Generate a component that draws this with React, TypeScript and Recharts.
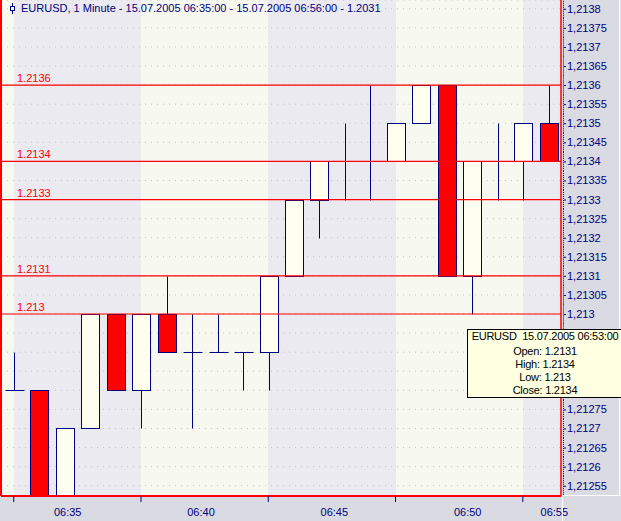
import React from "react";
import {
  ComposedChart,
  Bar,
  XAxis,
  YAxis,
  CartesianGrid,
  ReferenceLine,
} from "recharts";

// EURUSD 1 minute, 15.07.2005 06:35 - 06:56
const times = [
  "06:35", "06:36", "06:37", "06:38", "06:39", "06:40", "06:41", "06:42",
  "06:43", "06:44", "06:45", "06:46", "06:47", "06:48", "06:49", "06:50",
  "06:51", "06:52", "06:53", "06:54", "06:55", "06:56",
];
const opens = [
  1.2128, 1.2128, 1.2125, 1.2127, 1.213, 1.2128, 1.213, 1.2129, 1.2129, 1.2129, 1.2129,
  1.2131, 1.2133, 1.2134, 1.2134, 1.2134, 1.2135, 1.2136, 1.2131, 1.2134, 1.2134, 1.2135,
];
const highs = [
  1.2129, 1.2128, 1.2127, 1.213, 1.213, 1.213, 1.2131, 1.213, 1.213, 1.2129, 1.2131,
  1.2133, 1.2134, 1.2135, 1.2136, 1.2135, 1.2136, 1.2136, 1.2134, 1.2135, 1.2135, 1.2136,
];
const lows = [
  1.2128, 1.2125, 1.2125, 1.2127, 1.2128, 1.2127, 1.2129, 1.2127, 1.2129, 1.2128, 1.2128,
  1.2131, 1.2132, 1.2133, 1.2133, 1.2134, 1.2135, 1.2131, 1.213, 1.2133, 1.2133, 1.2134,
];
const closes = [
  1.2128, 1.2125, 1.2127, 1.213, 1.2128, 1.213, 1.2129, 1.2129, 1.2129, 1.2129, 1.2131,
  1.2133, 1.2134, 1.2134, 1.2134, 1.2135, 1.2136, 1.2131, 1.2134, 1.2134, 1.2135, 1.2134,
];

// horizontal levels drawn in red
const levels = [1.2136, 1.2134, 1.2133, 1.2131, 1.213];

// price scale ticks
const priceTicks = [
  1.21255, 1.2126, 1.21265, 1.2127, 1.21275, 1.2128, 1.21285, 1.2129, 1.21295,
  1.213, 1.21305, 1.2131, 1.21315, 1.2132, 1.21325, 1.2133, 1.21335, 1.2134,
  1.21345, 1.2135, 1.21355, 1.2136, 1.21365, 1.2137, 1.21375, 1.2138,
];

// time axis ticks (minute index from 06:35)
const timeTicks = [0, 5, 10, 15, 20];

const xDomain = [-0.5, 21.5];
const yDomain = [1.212523, 1.213823];
const selectedIndex = 18;

const data = times.map((t, i) => ({
  i,
  time: t,
  open: opens[i],
  high: highs[i],
  low: lows[i],
  close: closes[i],
}));

// label for each time band is centered in the visible part of the band
const labelPos = timeTicks.map((t, k) =>
  (t + Math.min(timeTicks[k + 1] ?? xDomain[1], xDomain[1])) / 2
);

const NAVY = "#000080";
const RED = "#ff0000";
const FONT = "'Liberation Sans', Arial, sans-serif";

const fmtPrice = (v: number) => String(+v.toFixed(5));

const Candle = (props: any) => {
  const { x, y, width, height, payload } = props;
  if (x == null || y == null) return null;
  const top = Math.min(y, y + height);
  const bot = Math.max(y, y + height);
  const { open, close, high, low } = payload;
  const py = (v: number) => top + ((high - v) / (high - low)) * (bot - top);
  const cx = Math.round(x + width / 2) + 0.5;
  const yO = Math.round(py(open)) + 0.5;
  const yC = Math.round(py(close)) + 0.5;
  const yH = Math.round(top) + 0.5;
  const yL = Math.round(bot) + 0.5;
  const bTop = Math.min(yO, yC);
  const bBot = Math.max(yO, yC);
  const bull = close > open;
  return (
    <g>
      <line x1={cx} x2={cx} y1={yH} y2={yL} stroke={NAVY} strokeWidth={1} />
      {open === close ? (
        <line x1={cx - 9} x2={cx + 10} y1={yO} y2={yO} stroke={NAVY} strokeWidth={1} />
      ) : (
        <rect
          x={cx - 9}
          y={bTop}
          width={18}
          height={bBot - bTop}
          fill={bull ? "#fffff0" : RED}
          stroke={NAVY}
          strokeWidth={1}
        />
      )}
    </g>
  );
};

const PriceTick = (props: any) => {
  const { x, y, payload } = props;
  return (
    <g>
      <line x1={x + 2.5} x2={x + 2.5} y1={y - 9.5} y2={y + 9.5} stroke={NAVY} strokeDasharray="1 1" />
      <line x1={x + 3} x2={x + 5} y1={y + 0.5} y2={y + 0.5} stroke={NAVY} />
      <text x={x + 6} y={y + 4} fill={NAVY} fontSize={11} fontFamily={FONT}>
        {fmtPrice(payload.value).replace(".", ",")}
      </text>
    </g>
  );
};

const levelLabel = (value: number) => (props: any) => {
  const vb = props.viewBox || {};
  return (
    <text x={vb.x + 16} y={vb.y - 3} fill={RED} fontSize={11} fontFamily={FONT}>
      {String(value)}
    </text>
  );
};

export default function App() {
  const sel = data[selectedIndex];
  return (
    <div
      style={{
        position: "absolute",
        left: 0,
        top: 0,
        width: 621,
        height: 521,
        background: "#dadae2",
        overflow: "hidden",
        fontFamily: FONT,
      }}
    >
      <ComposedChart
        width={621}
        height={521}
        data={data}
        margin={{ top: 0, right: 0, bottom: 0, left: 1 }}
      >
        {/* alternating 5-minute background bands */}
        <CartesianGrid
          horizontal={false}
          vertical
          stroke="none"
          verticalFill={["#f7f9f0", "#ebeaf0"]}
          fillOpacity={1}
        />
        <CartesianGrid
          vertical={false}
          stroke="#c4c4c4"
          strokeDasharray="1 5"
        />
        <XAxis
          xAxisId={0}
          dataKey="i"
          type="number"
          domain={xDomain}
          allowDataOverflow
          ticks={timeTicks}
          tickFormatter={() => ""}
          height={6}
          tickSize={6}
          axisLine={{ stroke: RED, strokeWidth: 2 }}
          tickLine={{ stroke: NAVY }}
        />
        <XAxis
          xAxisId="lbl"
          type="number"
          domain={xDomain}
          allowDataOverflow
          ticks={labelPos}
          tickFormatter={(v: number) => times[timeTicks[labelPos.indexOf(v)]]}
          height={19}
          tickSize={0}
          tickMargin={6}
          axisLine={false}
          tickLine={false}
          tick={{ fill: NAVY, fontSize: 11, fontFamily: FONT }}
        />
        <YAxis
          orientation="right"
          width={60}
          type="number"
          domain={yDomain}
          allowDataOverflow
          ticks={priceTicks}
          interval={0}
          tickSize={0}
          tickMargin={0}
          axisLine={false}
          tickLine={false}
          tick={<PriceTick />}
        />
        <Bar
          dataKey={(d: any) => [d.low, d.high]}
          barSize={18}
          shape={<Candle />}
          isAnimationActive={false}
        />
        {levels.map((v) => (
          <ReferenceLine
            key={`lvl-${v}`}
            y={v}
            stroke={RED}
            strokeWidth={1.2}
            label={levelLabel(v)}
          />
        ))}
        <ReferenceLine x={xDomain[0]} stroke={RED} strokeWidth={2} />
        <ReferenceLine x={xDomain[1]} stroke={RED} strokeWidth={1.5} />
      </ComposedChart>

      {/* title */}
      <div
        style={{
          position: "absolute",
          left: 9,
          top: 2,
          fontSize: 11,
          lineHeight: "13px",
          color: NAVY,
          whiteSpace: "pre",
          display: "flex",
          alignItems: "center",
        }}
      >
        <svg width={8} height={11} style={{ marginRight: 4 }}>
          <line x1={3.5} x2={3.5} y1={0} y2={11} stroke={NAVY} />
          <rect x={1.5} y={3.5} width={4} height={4} fill="#fff" stroke={NAVY} />
        </svg>
        EURUSD, 1 Minute - 15.07.2005 06:35:00 - 15.07.2005 06:56:00 - 1.2031
      </div>

      {/* panel edges */}
      <div
        style={{
          position: "absolute",
          left: 619,
          top: 0,
          width: 1,
          height: 495,
          background: "#fff",
        }}
      />
      <div
        style={{
          position: "absolute",
          left: 562,
          top: 495,
          width: 59,
          height: 26,
          borderLeft: "1px solid #fff",
          borderTop: "1px solid #fff",
        }}
      />

      {/* hover info box */}
      <div
        style={{
          position: "absolute",
          left: 467,
          top: 329,
          width: 154,
          background: "#ffffe1",
          border: "1px solid #000",
          fontSize: 11,
          lineHeight: "13px",
          letterSpacing: -0.25,
          color: "#000",
          textAlign: "center",
          whiteSpace: "pre",
        }}
      >
        <div style={{ marginBottom: 2 }}>{`EURUSD  15.07.2005 ${sel.time}:00`}</div>
        <div>Open: {fmtPrice(sel.open)}</div>
        <div>High: {fmtPrice(sel.high)}</div>
        <div>Low: {fmtPrice(sel.low)}</div>
        <div>Close: {fmtPrice(sel.close)}</div>
      </div>
    </div>
  );
}
